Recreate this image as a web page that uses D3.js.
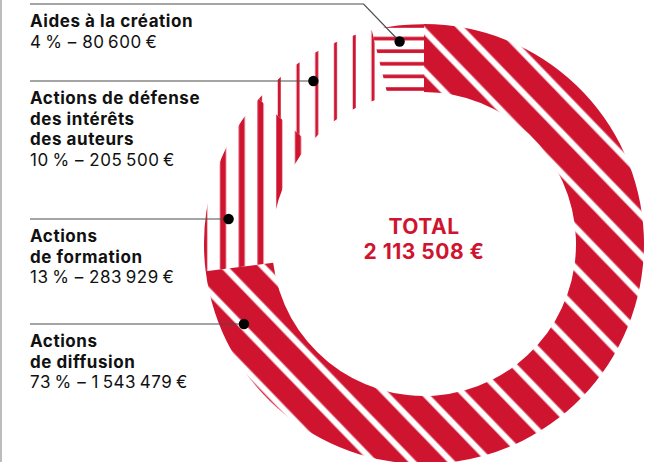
<!DOCTYPE html>
<html>
<head>
<meta charset="utf-8">
<script src="https://cdn.jsdelivr.net/npm/d3@7"></script>
<style>
  html, body { margin: 0; padding: 0; background: #fff; }
  svg { display: block; }
  .label { font-family: Inter, Roboto, sans-serif; font-size: 17px; letter-spacing: 0.55px; fill: #111; }
  .label .title { font-weight: 700; }
  .label .value { font-weight: 400; }
  .total { font-family: Inter, Roboto, sans-serif; font-weight: 700; font-size: 21px; fill: #cf1430; letter-spacing: 0.5px; }
</style>
</head>
<body>
<div id="chart"></div>
<script>
// budget split
const categories = ["Actions de diffusion", "Actions de formation", "Actions de défense des intérêts des auteurs", "Aides à la création"]
const amounts = [1543479, 283929, 205500, 80600]
const percents = [73, 13, 10, 4]
// how each label is broken over lines
const titleLines = [
    ["Actions", "de diffusion"],
    ["Actions", "de formation"],
    ["Actions de défense", "des intérêts", "des auteurs"],
    ["Aides à la création"]
]
const totalLabel = "TOTAL"
const totalAmount = 2113508

const width = 648, height = 462
const red = "#cf1430"
const cx = 424, cy = 244
const outerR = 220, innerR = 152

// french style thousands with thin spaces
const fmt = d3.formatLocale({decimal: ",", thousands: "\u2009", grouping: [3], currency: ["", "\u2009€"]}).format("$,")
const fmtTotal = d3.formatLocale({decimal: ",", thousands: " ", grouping: [3], currency: ["", " €"]}).format("$,")

const svg = d3.select("#chart").append("svg")
    .attr("width", width)
    .attr("height", height)

const defs = svg.append("defs")

// diagonal stripes for diffusion
const diag = defs.append("pattern")
    .attr("id", "p-diag")
    .attr("patternUnits", "userSpaceOnUse")
    .attr("width", 28).attr("height", 28)
    .attr("patternTransform", "rotate(-44)")
diag.append("rect").attr("width", 28).attr("height", 28).attr("fill", red)
diag.append("rect").attr("x", 5.4).attr("width", 6).attr("height", 28).attr("fill", "#fff")

// vertical stripes, thick (formation) and thin (défense)
function vStripes(id, w) {
    const p = defs.append("pattern")
        .attr("id", id)
        .attr("patternUnits", "userSpaceOnUse")
        .attr("width", 18.75).attr("height", 18.75)
    p.append("rect").attr("x", 5.25 - w / 2).attr("width", w).attr("height", 18.75).attr("fill", red)
}
vStripes("p-vthick", 6)
vStripes("p-vthin", 3)

// horizontal stripes for aides
const hor = defs.append("pattern")
    .attr("id", "p-hor")
    .attr("patternUnits", "userSpaceOnUse")
    .attr("width", 12.6).attr("height", 12.6)
hor.append("rect").attr("y", 8.8 - 1.8).attr("width", 12.6).attr("height", 3.6).attr("fill", red)

const fills = ["url(#p-diag)", "url(#p-vthick)", "url(#p-vthin)", "url(#p-hor)"]

// left border
svg.append("line")
    .attr("x1", 1).attr("x2", 1).attr("y1", 0).attr("y2", height)
    .attr("stroke", "#a6a6a6").attr("stroke-width", 1.5)

const pie = d3.pie().sort(null).value(d => d)
const arcs = pie(amounts)
const arc = d3.arc().innerRadius(innerR).outerRadius(outerR)

const g = svg.append("g").attr("transform", `translate(${cx},${cy})`)

g.selectAll("path.slice")
    .data(arcs)
    .join("path")
    .attr("class", "slice")
    .attr("d", arc)
    .attr("fill", (d, i) => fills[i])

// centre total
g.append("text").attr("class", "total")
    .attr("text-anchor", "middle").attr("y", -10.5)
    .text(totalLabel)
g.append("text").attr("class", "total")
    .attr("text-anchor", "middle").attr("y", 15.2)
    .text(fmtTotal(totalAmount))

// labels, top to bottom on the left
const labelX = 30
const lineY = [324, 219, 81, 4]   // leader line height for each label
const dotR = 197
const lead = 20.7

const labels = svg.append("g")
arcs.forEach((a, i) => {
    const y = lineY[i]
    let dot
    if (i === 3) {
        // aides: bent leader going to the middle of its slice
        const ang = (a.startAngle + a.endAngle) / 2
        dot = [cx + Math.sin(ang) * 204, cy - Math.cos(ang) * 204]
        labels.append("path")
            .attr("d", `M${labelX},${y}H${dot[0] - 36}L${dot[0]},${dot[1]}`)
            .attr("fill", "none").attr("stroke", "#4d4d4d").attr("stroke-width", 1.2)
    } else {
        const dy = y - cy
        dot = [cx - Math.sqrt(dotR * dotR - dy * dy), y]
        labels.append("line")
            .attr("x1", labelX).attr("x2", dot[0]).attr("y1", y).attr("y2", y)
            .attr("stroke", "#4d4d4d").attr("stroke-width", 1.2)
    }
    labels.append("circle")
        .attr("cx", dot[0]).attr("cy", dot[1]).attr("r", 5.2).attr("fill", "#000")

    const t = titleLines[i]
    t.forEach((s, k) => {
        labels.append("text").attr("class", "label title")
            .attr("x", labelX).attr("y", y + 23 + k * lead)
            .style("font-weight", 700)
            .text(s)
    })
    labels.append("text").attr("class", "label value")
        .attr("x", labelX).attr("y", y + 23 + t.length * lead)
        .style("font-weight", 400)
        .text(`${percents[i]}\u2009% – ${fmt(amounts[i])}`)
})
</script>
</body>
</html>
